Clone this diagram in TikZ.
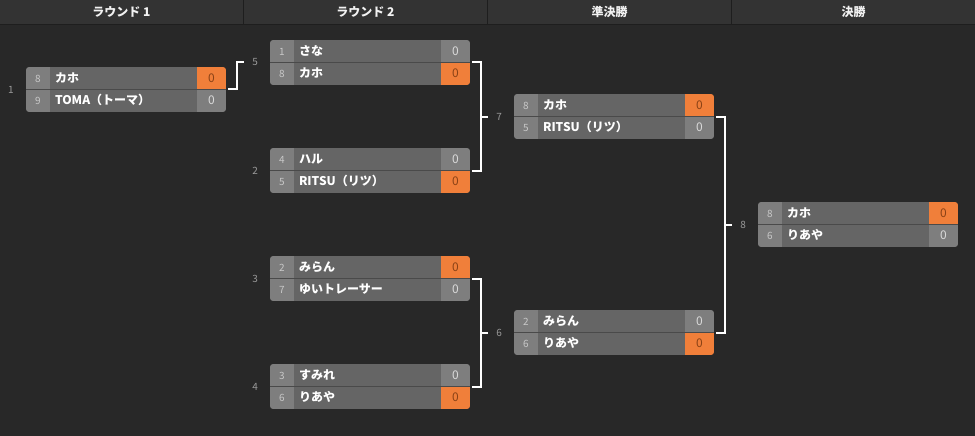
\documentclass[tikz,border=0pt]{standalone}
\usepackage{xcolor}
\usepackage{fontspec}
\setmainfont{Noto Sans CJK JP}
\usepackage{tikz}
\usetikzlibrary{positioning}

\definecolor{pagebg}{HTML}{282828}
\definecolor{headbg}{HTML}{333333}
\definecolor{headline}{HTML}{1E1E1E}
\definecolor{cellgray}{HTML}{7E7E7E}
\definecolor{namegray}{HTML}{656565}
\definecolor{rowsep}{HTML}{4A4A4A}
\definecolor{winorange}{HTML}{F07F3A}
\definecolor{wintext}{HTML}{8A4216}
\definecolor{scoretext}{HTML}{DADADA}
\definecolor{seedtext}{HTML}{C8C8C8}
\definecolor{numgray}{HTML}{9A9A9A}

\tikzset{
  cell/.style={rectangle, inner sep=0pt, outer sep=0pt, minimum height=22.5pt,
    text height=9pt, text depth=1pt},
  seedcell/.style={cell, fill=cellgray, minimum width=24pt, text=seedtext,
    font=\fontsize{10}{12}\selectfont},
  namecell/.style={cell, fill=namegray, text width=137pt, inner xsep=5pt,
    align=left, text=white, font=\fontsize{12}{14}\selectfont\bfseries},
  lose/.style={cell, fill=cellgray, minimum width=29pt, text=scoretext,
    font=\fontsize{12}{14}\selectfont},
  win/.style={cell, fill=winorange, minimum width=29pt, text=wintext,
    font=\fontsize{12}{14}\selectfont},
  rowline/.style={draw=rowsep, line width=1pt},
  matchno/.style={inner sep=0pt, text=numgray, font=\fontsize{10}{12}\selectfont},
  headtext/.style={text=white!90!gray, font=\fontsize{12}{14}\selectfont\bfseries},
  link/.style={draw=white, line width=2pt},
}

% one match: id, top left corner, number, seed/name/result of both rows
\newcommand{\matchbox}[9]{%
  \begin{scope}
    \clip[rounded corners=3pt] (#2) rectangle ++(200,-45);
    \node[seedcell, anchor=north west] (#1a) at (#2) {#4};
    \node[namecell, right=0pt of #1a] (#1an) {#5};
    \node[#6, right=0pt of #1an] (#1as) {0};
    \node[seedcell, below=0pt of #1a] (#1b) {#7};
    \node[namecell, right=0pt of #1b] (#1bn) {#8};
    \node[#9, right=0pt of #1bn] (#1bs) {0};
  \end{scope}
  \draw[rowline] (#1a.south west) -- (#1as.south east);
  \node[matchno, left=12pt of #1a.south west] (#1no) {#3};
}

\begin{document}
\begin{tikzpicture}[x=1pt, y=1pt]

\useasboundingbox (0,0) rectangle (975,-436);
\fill[pagebg] (0,0) rectangle (975,-436);

% header %
\fill[headbg] (0,0) rectangle (975,-24);
\draw[headline, line width=1pt] (0,-24.5) -- (975,-24.5);
\foreach \x in {243.5, 487.5, 731.5}
  \draw[headline, line width=1pt] (\x,0) -- (\x,-24);
\node[headtext] (h1) at (121.5,-12) {ラウンド 1};
\node[headtext] (h2) at (365.5,-12) {ラウンド 2};
\node[headtext] (h3) at (609.5,-12) {準決勝};
\node[headtext] (h4) at (853.5,-12) {決勝};

% nodes %
\matchbox{m1}{26,-67}{1}{8}{カホ}{win}{9}{TOMA（トーマ）}{lose}
\matchbox{m5}{270,-40}{5}{1}{さな}{lose}{8}{カホ}{win}
\matchbox{m2}{270,-148}{2}{4}{ハル}{lose}{5}{RITSU（リツ）}{win}
\matchbox{m3}{270,-256}{3}{2}{みらん}{win}{7}{ゆいトレーサー}{lose}
\matchbox{m4}{270,-364}{4}{3}{すみれ}{lose}{6}{りあや}{win}
\matchbox{m7}{514,-94}{7}{8}{カホ}{win}{5}{RITSU（リツ）}{lose}
\matchbox{m6}{514,-310}{6}{2}{みらん}{lose}{6}{りあや}{win}
\matchbox{m8}{758,-202}{8}{8}{カホ}{win}{6}{りあや}{lose}

% edges %
\draw[link] ([xshift=2pt]m1as.south east) -- ++(9,0) |- ([xshift=-8pt]m5no.west);
\draw[link] ([xshift=2pt]m5as.south east) -- ++(9,0) |- ([xshift=2pt]m2as.south east);
\draw[link] ([xshift=-8pt]m7no.west) -- ++(-8,0);
\draw[link] ([xshift=2pt]m3as.south east) -- ++(9,0) |- ([xshift=2pt]m4as.south east);
\draw[link] ([xshift=-8pt]m6no.west) -- ++(-8,0);
\draw[link] ([xshift=2pt]m7as.south east) -- ++(9,0) |- ([xshift=2pt]m6as.south east);
\draw[link] ([xshift=-8pt]m8no.west) -- ++(-8,0);

\end{tikzpicture}
\end{document}
